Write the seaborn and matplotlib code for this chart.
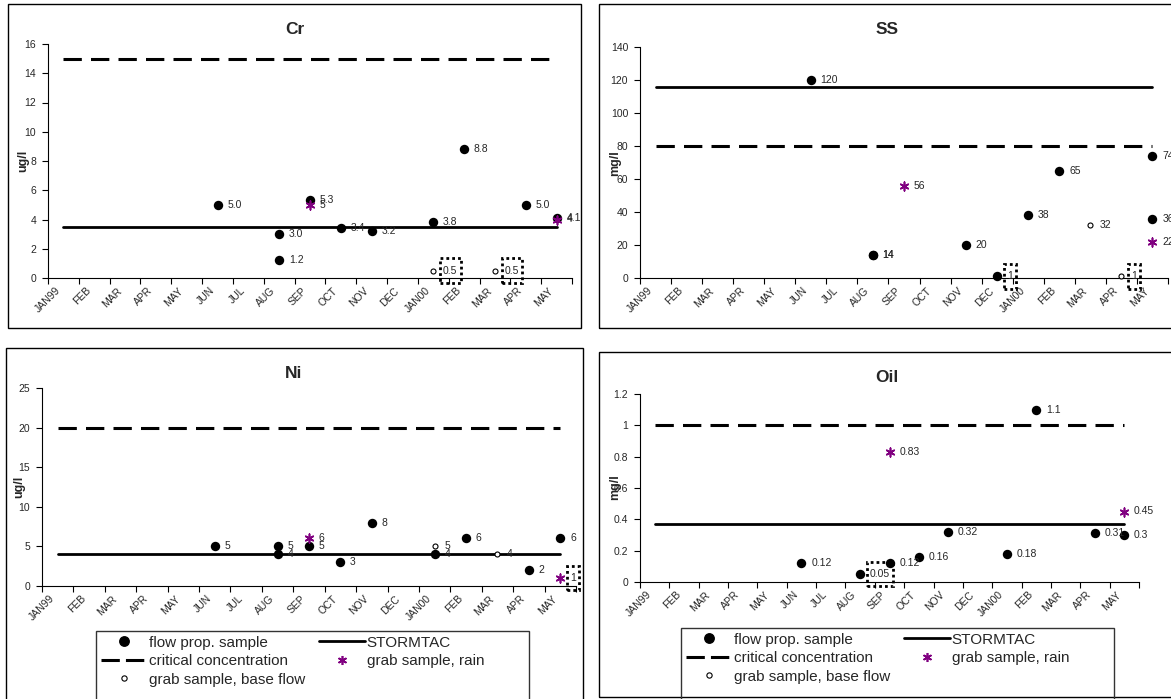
import numpy as np
import pandas as pd
import matplotlib
matplotlib.use("Agg")
import matplotlib.pyplot as plt
from matplotlib.patches import Rectangle
from matplotlib.lines import Line2D
from matplotlib.path import Path
import matplotlib.transforms as mtransforms
import seaborn as sns

# ---------------- data ----------------
month_keys = ["1999-01", "1999-02", "1999-03", "1999-04", "1999-05", "1999-06",
              "1999-07", "1999-08", "1999-09", "1999-10", "1999-11", "1999-12",
              "2000-01", "2000-02", "2000-03", "2000-04", "2000-05"]
month_labels = ["JAN99", "FEB", "MAR", "APR", "MAY", "JUN", "JUL", "AUG", "SEP",
                "OCT", "NOV", "DEC", "JAN00", "FEB", "MAR", "APR", "MAY"]

# Cr (ug/l)
cr_flow_dates = ["1999-06", "1999-08", "1999-08", "1999-09", "1999-10", "1999-11",
                 "2000-01", "2000-02", "2000-04", "2000-05"]
cr_flow_vals = [5.0, 3.0, 1.2, 5.3, 3.4, 3.2, 3.8, 8.8, 5.0, 4.1]
cr_flow_boxed = [False] * 10
cr_rain_dates = ["1999-09", "2000-05"]
cr_rain_vals = [5, 4]
cr_rain_boxed = [False, False]
cr_base_dates = ["2000-01", "2000-03"]
cr_base_vals = [0.5, 0.5]
cr_base_boxed = [True, True]
cr_critical = 15
cr_stormtac = 3.5

# SS (mg/l)
ss_flow_dates = ["1999-06", "1999-08", "1999-08", "1999-11", "1999-12", "2000-01",
                 "2000-02", "2000-05", "2000-05"]
ss_flow_vals = [120, 14, 14, 20, 1, 38, 65, 74, 36]
ss_flow_boxed = [False, False, False, False, True, False, False, False, False]
ss_rain_dates = ["1999-09", "2000-05"]
ss_rain_vals = [56, 22]
ss_rain_boxed = [False, False]
ss_base_dates = ["2000-03", "2000-04"]
ss_base_vals = [32, 1]
ss_base_boxed = [False, True]
ss_critical = 80
ss_stormtac = 116

# Ni (ug/l)
ni_flow_dates = ["1999-06", "1999-08", "1999-08", "1999-09", "1999-10", "1999-11",
                 "2000-01", "2000-02", "2000-04", "2000-05"]
ni_flow_vals = [5, 5, 4, 5, 3, 8, 4, 6, 2, 6]
ni_flow_boxed = [False] * 10
ni_rain_dates = ["1999-09", "2000-05"]
ni_rain_vals = [6, 1]
ni_rain_boxed = [False, True]
ni_base_dates = ["2000-01", "2000-03"]
ni_base_vals = [5, 4]
ni_base_boxed = [False, False]
ni_critical = 20
ni_stormtac = 4

# Oil (mg/l)
oil_flow_dates = ["1999-06", "1999-08", "1999-09", "1999-10", "1999-11", "2000-01",
                  "2000-02", "2000-04", "2000-05"]
oil_flow_vals = [0.12, 0.05, 0.12, 0.16, 0.32, 0.18, 1.1, 0.31, 0.3]
oil_flow_boxed = [False, True, False, False, False, False, False, False, False]
oil_rain_dates = ["1999-09", "2000-05"]
oil_rain_vals = [0.83, 0.45]
oil_rain_boxed = [False, False]
oil_base_dates = []
oil_base_vals = []
oil_base_boxed = []
oil_critical = 1.0
oil_stormtac = 0.37

legend_labels = ["flow prop. sample", "critical concentration", "grab sample, base flow",
                 "STORMTAC", "grab sample, rain"]

# ---------------- style ----------------
sns.set_style("white")
plt.rcParams["font.family"] = ["Liberation Sans", "DejaVu Sans"]

W, H = 1171, 699
fig = plt.figure(figsize=(W / 100, H / 100), dpi=100)

RAIN_COLOR = "#800080"
STAR = (6, 2, 0)


def fx(x):
    return x / W


def fy(y):
    return 1 - y / H


def add_axes_px(x0, y0, x1, y1):
    return fig.add_axes([fx(x0), fy(y1), (x1 - x0) / W, (y1 - y0) / H])


def frame_px(x0, y0, x1, y1, lw=1.0, ec="black"):
    fig.add_artist(Rectangle((fx(x0), fy(y1)), (x1 - x0) / W, (y1 - y0) / H,
                             transform=fig.transFigure, fill=False, lw=lw, ec=ec,
                             zorder=0))


def dotted_box(x0, y0, width, height, mutation_size, mutation_aspect=1):
    padx = 0.3 * mutation_size
    pady = 0.7 * mutation_size
    x0, y0 = x0 - padx, y0 - pady
    x1, y1 = x0 + width + 2 * padx, y0 + height + 2 * pady
    return Path([(x0, y0), (x1, y0), (x1, y1), (x0, y1), (x0, y0)],
                closed=True)


def to_x(dates):
    return [month_keys.index(d) for d in dates]


def label_points(ax, xs, vals, boxed, fmt):
    for x, v, b in zip(xs, vals, boxed):
        kw = {}
        if b:
            kw["bbox"] = dict(boxstyle=dotted_box, fill=False, ec="black",
                              lw=2.0, ls=(0, (1, 1.1)))
        ax.annotate(format(v, fmt), (x, v), xytext=(7, 0), textcoords="offset points",
                    ha="left", va="center", fontsize=7.5, annotation_clip=False,
                    zorder=6, **kw)


def panel(ax, title, unit, ymax, ystep, flow, rain, base, critical, stormtac,
          flow_fmt="g", title_xy=(0, 0), ylabel_xy=(0, 0)):
    n = len(month_keys)
    # reference lines
    line_x = [0, n - 1]
    sns.lineplot(x=line_x, y=[stormtac, stormtac], ax=ax, color="black", lw=2.0,
                 zorder=2)
    sns.lineplot(x=line_x, y=[critical, critical], ax=ax, color="black", lw=2.2,
                 linestyle=(0, (6, 3)), zorder=2)
    # points
    fd, fv, fb = flow
    fxs = to_x(fd)
    sns.scatterplot(x=fxs, y=fv, ax=ax, marker="o", s=46, color="black",
                    linewidth=0, zorder=3, clip_on=False)
    bd, bv, bb = base
    bxs = to_x(bd)
    if bxs:
        sns.scatterplot(x=bxs, y=bv, ax=ax, marker="o", s=13, color="white",
                        edgecolor="black", linewidth=0.8, zorder=4, clip_on=False)
    rd, rv, rb = rain
    rxs = to_x(rd)
    sns.scatterplot(x=rxs, y=rv, ax=ax, marker=STAR, s=38, color=RAIN_COLOR,
                    linewidth=1.2, zorder=5, clip_on=False)
    # labels
    label_points(ax, fxs, fv, fb, flow_fmt)
    label_points(ax, bxs, bv, bb, "g")
    label_points(ax, rxs, rv, rb, "g")

    # axes
    ax.set_xlim(-0.5, n - 0.5)
    ax.set_ylim(0, ymax)
    ax.set_xticks(np.arange(-0.5, n, 1.0))
    ax.set_xticks(np.arange(n), minor=True)
    ax.set_xticklabels([], minor=False)
    ax.set_xticklabels(month_labels, minor=True, rotation=45, ha="right",
                       va="center", rotation_mode="anchor", fontsize=7.5)
    ax.tick_params(axis="x", which="major", direction="out", length=4, width=0.8,
                   color="black", bottom=True)
    ax.tick_params(axis="x", which="minor", length=0, pad=8)
    offset = mtransforms.ScaledTranslation(-5 / 100, 0, fig.dpi_scale_trans)
    for lbl in ax.get_xticklabels(minor=True):
        lbl.set_transform(lbl.get_transform() + offset)
    yt = np.round(np.arange(0, ymax + ystep / 2, ystep), 3)
    ax.set_yticks(yt)
    ax.set_yticklabels([format(v, "g") for v in yt], fontsize=7.5)
    ax.tick_params(axis="y", direction="out", length=4, width=0.8, color="black",
                   left=True, pad=4.5)
    for s in ["top", "right"]:
        ax.spines[s].set_visible(False)
    for s in ["left", "bottom"]:
        ax.spines[s].set_color("black")
        ax.spines[s].set_linewidth(0.8)
    ax.set_xlabel("")
    ax.set_ylabel("")
    ax.patch.set_alpha(0)
    fig.text(fx(title_xy[0]), fy(title_xy[1]), title, ha="center", va="center",
             fontsize=12.5, fontweight="bold")
    fig.text(fx(ylabel_xy[0]), fy(ylabel_xy[1]), unit, ha="center", va="center",
             rotation=90, fontsize=9, fontweight="bold")


# frames
frame_px(8, 4, 581, 328)
frame_px(599, 4, 1176, 328)
frame_px(6, 348, 583, 702)
frame_px(599, 352, 1176, 697)

ax_cr = add_axes_px(48, 44, 572, 278)
ax_ss = add_axes_px(640, 47, 1168, 278)
ax_ni = add_axes_px(42, 388, 576, 586)
ax_oil = add_axes_px(640, 394, 1139, 582)

panel(ax_cr, "Cr", "ug/l", 16, 2,
      (cr_flow_dates, cr_flow_vals, cr_flow_boxed),
      (cr_rain_dates, cr_rain_vals, cr_rain_boxed),
      (cr_base_dates, cr_base_vals, cr_base_boxed),
      cr_critical, cr_stormtac, flow_fmt=".1f", title_xy=(295, 29), ylabel_xy=(23, 161))
panel(ax_ss, "SS", "mg/l", 140, 20,
      (ss_flow_dates, ss_flow_vals, ss_flow_boxed),
      (ss_rain_dates, ss_rain_vals, ss_rain_boxed),
      (ss_base_dates, ss_base_vals, ss_base_boxed),
      ss_critical, ss_stormtac, title_xy=(887, 29), ylabel_xy=(615, 163))
panel(ax_ni, "Ni", "ug/l", 25, 5,
      (ni_flow_dates, ni_flow_vals, ni_flow_boxed),
      (ni_rain_dates, ni_rain_vals, ni_rain_boxed),
      (ni_base_dates, ni_base_vals, ni_base_boxed),
      ni_critical, ni_stormtac, title_xy=(294, 374), ylabel_xy=(19, 487))
panel(ax_oil, "Oil", "mg/l", 1.2, 0.2,
      (oil_flow_dates, oil_flow_vals, oil_flow_boxed),
      (oil_rain_dates, oil_rain_vals, oil_rain_boxed),
      (oil_base_dates, oil_base_vals, oil_base_boxed),
      oil_critical, oil_stormtac, title_xy=(887, 377), ylabel_xy=(615, 487))

# legends
handles = [
    Line2D([], [], ls="none", marker="o", ms=6.8, color="black"),
    Line2D([], [], color="black", lw=2.2, linestyle=(0, (6, 2))),
    Line2D([], [], ls="none", marker="o", ms=3.8, mfc="white", mec="black", mew=0.8),
    Line2D([], [], color="black", lw=2.0),
    Line2D([], [], ls="none", marker=STAR, ms=6.5, color=RAIN_COLOR, mew=1.2),
]
for (x0, y0, x1) in [(96, 631, 529), (681, 628, 1114)]:
    frame_px(x0, y0, x1, 702, lw=1.0, ec="#333333")
    fig.legend(handles, legend_labels, loc="upper left",
               bbox_to_anchor=(fx(x0), fy(y0)), ncol=2, frameon=False, fontsize=11,
               handlelength=3.0, handletextpad=0.15, columnspacing=0.9,
               labelspacing=0.3, borderpad=0.3, borderaxespad=0)

fig.savefig("out.png", dpi=100)
